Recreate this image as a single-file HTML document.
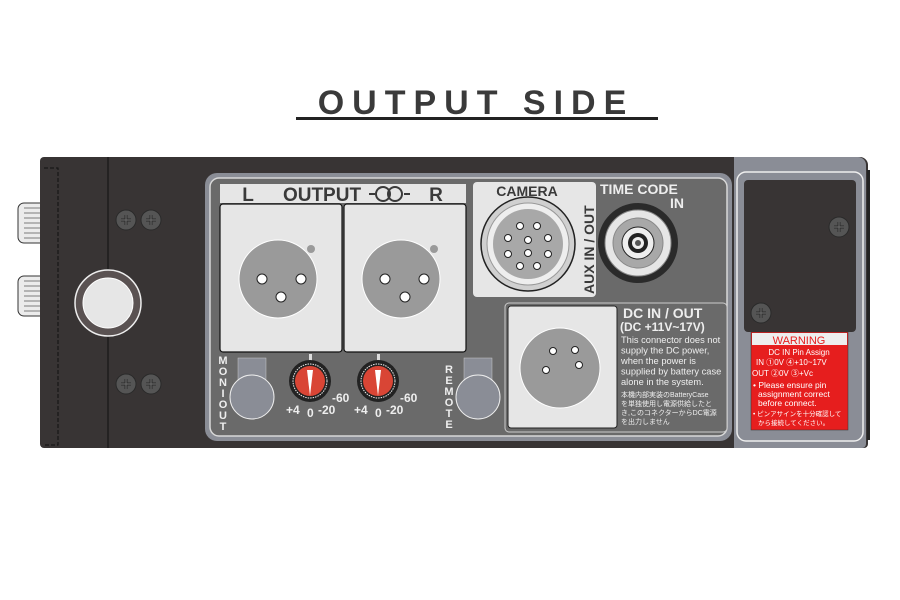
<!DOCTYPE html>
<html><head><meta charset="utf-8"><style>
html,body{margin:0;padding:0;background:#fff;}
svg{display:block;}
text{font-family:"Liberation Sans","Noto Sans CJK JP",sans-serif;}
</style></head><body>
<svg width="900" height="600" viewBox="0 0 900 600" xmlns="http://www.w3.org/2000/svg">
<defs>
<g id="screw"><circle r="10" fill="#555" stroke="#2a2a2a" stroke-width="1"/><path d="M-5 0H5M0 -5V5" stroke="#2a2a2a" stroke-width="3"/><path d="M-5 0H5M0 -5V5" stroke="#666" stroke-width="1.2"/></g>
</defs>
<text x="476" y="114" text-anchor="middle" font-size="34" font-weight="bold" letter-spacing="8" fill="#3a3a3a">OUTPUT SIDE</text>
<rect x="296" y="117" width="362" height="3" fill="#222"/>

<g fill="#ececec" stroke="#333" stroke-width="1">
<rect x="18" y="203" width="44" height="40" rx="6"/>
<rect x="18" y="276" width="44" height="40" rx="6"/>
</g>
<g stroke="#555" stroke-width="0.8">
<path d="M24 208H60M24 213H60M24 218H60M24 223H60M24 228H60M24 233H60M24 238H60"/>
<path d="M24 281H60M24 286H60M24 291H60M24 296H60M24 301H60M24 306H60M24 311H60"/>
</g>

<path d="M44 157H860a8 8 0 0 1 8 8V444a4 4 0 0 1-4 4H44a4 4 0 0 1-4-4V161a4 4 0 0 1 4-4z" fill="#383434"/>
<path d="M734 157H858a8 8 0 0 1 8 8V444a4 4 0 0 1-4 4H734z" fill="#8a8d96"/>
<rect x="867" y="170" width="3" height="270" fill="#222"/>
<line x1="108" y1="157" x2="108" y2="448" stroke="#111" stroke-width="1"/>
<path d="M44 168H58V445H44" fill="none" stroke="#111" stroke-dasharray="4,2"/>

<use href="#screw" x="126" y="220"/><use href="#screw" x="151" y="220"/>
<use href="#screw" x="126" y="384"/><use href="#screw" x="151" y="384"/>
<circle cx="108" cy="303" r="33" fill="#5a5252" stroke="#eee" stroke-width="1.5"/>
<circle cx="108" cy="303" r="25" fill="#e6e6e6" stroke="#fff" stroke-width="1"/>

<rect x="205" y="173" width="527" height="268" rx="12" fill="#8a8d96"/>
<rect x="210" y="178" width="517" height="258" rx="9" fill="#6a6a6a" stroke="#d8d8d8" stroke-width="1.5"/>

<rect x="220" y="184" width="246" height="19" fill="#e6e6e6"/>
<text x="248" y="201" text-anchor="middle" font-size="19" font-weight="bold" fill="#3a3a3a">L</text>
<text x="322" y="201" text-anchor="middle" font-size="19" font-weight="bold" fill="#3a3a3a">OUTPUT</text>
<path d="M369 194H375M404 194H410" stroke="#3a3a3a" stroke-width="2"/>
<circle cx="383" cy="194" r="7" fill="none" stroke="#3a3a3a" stroke-width="2"/>
<circle cx="395" cy="194" r="7" fill="none" stroke="#3a3a3a" stroke-width="2"/>
<text x="436" y="201" text-anchor="middle" font-size="19" font-weight="bold" fill="#3a3a3a">R</text>

<g stroke="#111" stroke-width="1.2" fill="#e6e6e6">
<rect x="220" y="204" width="122" height="148" rx="3"/>
<rect x="344" y="204" width="122" height="148" rx="3"/>
</g>
<g>
<circle cx="278" cy="279" r="39" fill="#9a9a9a" stroke="#fff"/>
<circle cx="311" cy="249" r="4" fill="#9a9a9a"/>
<circle cx="262" cy="279" r="5" fill="#fff" stroke="#222"/><circle cx="301" cy="279" r="5" fill="#fff" stroke="#222"/><circle cx="281" cy="297" r="5" fill="#fff" stroke="#222"/>
<circle cx="401" cy="279" r="39" fill="#9a9a9a" stroke="#fff"/>
<circle cx="434" cy="249" r="4" fill="#9a9a9a"/>
<circle cx="385" cy="279" r="5" fill="#fff" stroke="#222"/><circle cx="424" cy="279" r="5" fill="#fff" stroke="#222"/><circle cx="405" cy="297" r="5" fill="#fff" stroke="#222"/>
</g>

<g>
<rect x="309" y="354" width="3" height="8" fill="#ddd"/>
<circle cx="310" cy="381" r="21" fill="#222"/><circle cx="310" cy="381" r="17" fill="none" stroke="#eee" stroke-width="1" stroke-dasharray="1.5,1"/>
<circle cx="310" cy="381" r="15" fill="#d94535"/><path d="M307 370H313L310 396z" fill="#fff"/>
<rect x="377" y="354" width="3" height="8" fill="#ddd"/>
<circle cx="378" cy="381" r="21" fill="#222"/><circle cx="378" cy="381" r="17" fill="none" stroke="#eee" stroke-width="1" stroke-dasharray="1.5,1"/>
<circle cx="378" cy="381" r="15" fill="#d94535"/><path d="M375 370H381L378 396z" fill="#fff"/>
</g>
<g font-size="12" font-weight="bold" fill="#eee">
<text x="286" y="414">+4</text><text x="307" y="417">0</text><text x="318" y="414">-20</text><text x="332" y="402">-60</text>
<text x="354" y="414">+4</text><text x="375" y="417">0</text><text x="386" y="414">-20</text><text x="400" y="402">-60</text>
</g>

<g font-size="11" font-weight="bold" fill="#eee" text-anchor="middle">
<text x="223" y="364">M</text><text x="223" y="375">O</text><text x="223" y="386">N</text><text x="223" y="397">I</text><text x="223" y="408">O</text><text x="223" y="419">U</text><text x="223" y="430">T</text>
<text x="449" y="373">R</text><text x="449" y="384">E</text><text x="449" y="395">M</text><text x="449" y="406">O</text><text x="449" y="417">T</text><text x="449" y="428">E</text>
</g>
<rect x="238" y="358" width="28" height="24" fill="#8a8d96" stroke="#ccc" stroke-width="0.5"/>
<circle cx="252" cy="397" r="22" fill="#8a8d96" stroke="#eee"/>
<rect x="464" y="358" width="28" height="24" fill="#8a8d96" stroke="#ccc" stroke-width="0.5"/>
<circle cx="478" cy="397" r="22" fill="#8a8d96" stroke="#eee"/>

<rect x="473" y="182" width="123" height="115" rx="4" fill="#e6e6e6"/>
<text x="527" y="196" text-anchor="middle" font-size="14" font-weight="bold" fill="#3a3a3a">CAMERA</text>
<text transform="translate(594,294) rotate(-90)" font-size="14" font-weight="bold" fill="#3a3a3a">AUX IN / OUT</text>
<circle cx="528" cy="244" r="47" fill="#d0d0d0" stroke="#222" stroke-width="1.5"/>
<circle cx="528" cy="244" r="41" fill="#eee" stroke="#999"/>
<circle cx="528" cy="244" r="35" fill="#a8a8a8"/>
<g fill="#fff" stroke="#222" stroke-width="1">
<circle cx="520" cy="226" r="3.5"/><circle cx="537" cy="226" r="3.5"/>
<circle cx="508" cy="238" r="3.5"/><circle cx="528" cy="240" r="3.5"/><circle cx="548" cy="238" r="3.5"/>
<circle cx="508" cy="254" r="3.5"/><circle cx="528" cy="253" r="3.5"/><circle cx="548" cy="254" r="3.5"/>
<circle cx="520" cy="266" r="3.5"/><circle cx="537" cy="266" r="3.5"/>
</g>

<text x="600" y="194" font-size="14" font-weight="bold" fill="#eee">TIME CODE</text>
<text x="670" y="208" font-size="14" font-weight="bold" fill="#eee">IN</text>
<circle cx="638" cy="243" r="40" fill="#2a2a2a"/>
<circle cx="638" cy="243" r="33" fill="#e6e6e6" stroke="#888"/>
<circle cx="638" cy="243" r="25" fill="#a8a8a8" stroke="#888"/>
<circle cx="638" cy="243" r="16" fill="#eee" stroke="#222"/>
<circle cx="638" cy="243" r="10" fill="#222"/>
<circle cx="638" cy="243" r="6" fill="#eee"/><circle cx="638" cy="243" r="3" fill="#555"/>

<rect x="505" y="303" width="222" height="129" rx="4" fill="#6a6a6a" stroke="#ccc"/>
<rect x="508" y="306" width="109" height="122" rx="3" fill="#e6e6e6" stroke="#222"/>
<circle cx="560" cy="368" r="40" fill="#9a9a9a" stroke="#fff"/>
<g fill="#fff" stroke="#222"><circle cx="553" cy="351" r="3.5"/><circle cx="575" cy="350" r="3.5"/><circle cx="546" cy="370" r="3.5"/><circle cx="579" cy="365" r="3.5"/></g>
<text x="623" y="318" font-size="14" font-weight="bold" fill="#eee">DC IN / OUT</text>
<text x="620" y="331" font-size="12" font-weight="bold" fill="#eee">(DC +11V~17V)</text>
<g font-size="9.3" fill="#eee">
<text x="621" y="343">This connector does not</text>
<text x="621" y="353.5">supply the DC power,</text>
<text x="621" y="364">when the power is</text>
<text x="621" y="374.5">supplied by battery case</text>
<text x="621" y="385">alone in the system.</text>
</g>
<g font-size="7" fill="#eee">
<text x="621" y="397">本機内部実装のBatteryCase</text>
<text x="621" y="406">を単独使用し電源供給したと</text>
<text x="621" y="415">き,このコネクターからDC電源</text>
<text x="621" y="424">を出力しません</text>
</g>

<rect x="737" y="172" width="126" height="269" rx="9" fill="#8a8d96" stroke="#eee" stroke-width="1.5"/>
<rect x="744" y="180" width="112" height="152" rx="4" fill="#383434"/>
<use href="#screw" x="839" y="227"/><use href="#screw" x="761" y="313"/>
<rect x="751" y="332" width="97" height="98" fill="#e61e1e" stroke="#333" stroke-width="0.5"/>
<rect x="752" y="333" width="95" height="12" fill="#eee"/>
<text x="799" y="344" text-anchor="middle" font-size="11" fill="#e61e1e">WARNING</text>
<g fill="#fff">
<text x="799" y="355" text-anchor="middle" font-size="8">DC IN Pin Assign</text>
<text x="756" y="365" font-size="8">IN  ①0V ④+10~17V</text>
<text x="752" y="376" font-size="8">OUT ②0V ③+Vc</text>
<text x="753" y="388" font-size="8.5">• Please ensure pin</text>
<text x="758" y="397" font-size="8.5">assignment correct</text>
<text x="758" y="406" font-size="8.5">before connect.</text>
<text x="753" y="416" font-size="6.5">• ピンアサインを十分確認して</text>
<text x="758" y="425" font-size="6.5">から接続してください。</text>
</g>
</svg>
</body></html>
